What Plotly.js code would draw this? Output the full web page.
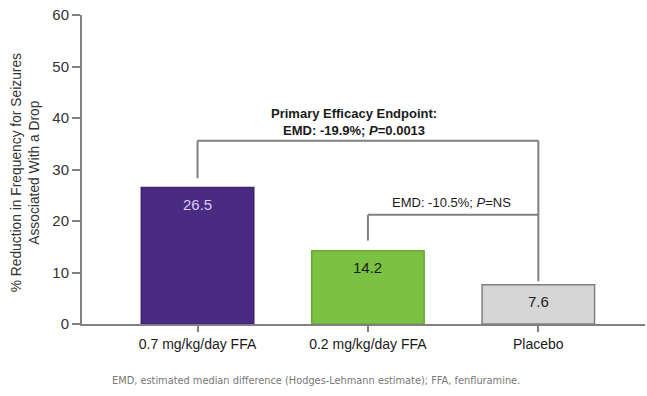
<!DOCTYPE html>
<html>
<head>
<meta charset="utf-8">
<script src="https://cdn.plot.ly/plotly-3.0.1.min.js"></script>
<style>html,body{margin:0;padding:0;background:#fff;}#chart{width:647px;height:396px;}</style>
</head>
<body>
<div id="chart"></div>
<script>
var categories = ["0.7 mg/kg/day FFA", "0.2 mg/kg/day FFA", "Placebo"];
var values = [26.5, 14.2, 7.6];
var valueLabels = ["26.5", "14.2", "7.6"];
var barColors = ["#4a2b83", "#7cc242", "#d6d6d6"];
var barLineColors = ["#3d2470", "#6aa838", "#7f7f7f"];
var labelColors = ["#d9ccf2", "#1a1a1a", "#222222"];
var yTicks = [0, 10, 20, 30, 40, 50, 60];

// bracket levels (y-axis units)
var primaryTop = 35.6, primaryLeftEnd = 28.3, primaryRightEnd = 8.3;
var secondaryTop = 21.2, secondaryLeftEnd = 16.2;
var primaryText = "<b>Primary Efficacy Endpoint:<br>EMD: -19.9%; <i>P</i>=0.0013</b>";
var secondaryText = "EMD: -10.5%; <i>P</i>=NS";
var captionText = "EMD, estimated median difference (Hodges-Lehmann estimate); FFA, fenfluramine.";

var lineStyle = {color: "#808080", width: 2};
var shapes = [
  {type: "line", xref: "x", yref: "y", x0: 0, x1: 0, y0: primaryLeftEnd, y1: primaryTop, line: lineStyle},
  {type: "line", xref: "x", yref: "y", x0: 0, x1: 2, y0: primaryTop, y1: primaryTop, line: lineStyle},
  {type: "line", xref: "x", yref: "y", x0: 2, x1: 2, y0: primaryTop, y1: primaryRightEnd, line: lineStyle},
  {type: "line", xref: "x", yref: "y", x0: 1, x1: 1, y0: secondaryLeftEnd, y1: secondaryTop, line: lineStyle},
  {type: "line", xref: "x", yref: "y", x0: 1, x1: 2, y0: secondaryTop, y1: secondaryTop, line: lineStyle}
];

var trace = {
  type: "bar",
  x: [0, 1, 2],
  y: values,
  width: 0.66,
  marker: {color: barColors, line: {color: barLineColors, width: 1.5}},
  hoverinfo: "none",
  cliponaxis: false
};

var annotations = [
  {xref: "paper", yref: "paper", x: -0.1, y: 0.49, xanchor: "center", yanchor: "middle",
   textangle: -90, showarrow: false,
   text: "% Reduction in Frequency for Seizures<br>Associated With a Drop",
   font: {size: 13.8, color: "#333"}, align: "center"},
  {xref: "x", yref: "y", x: 0.92, y: primaryTop, xanchor: "center", yanchor: "bottom", yshift: 1, showarrow: false,
   text: primaryText, font: {size: 13, color: "#1a1a1a"}, align: "center"},
  {xref: "x", yref: "y", x: 1.49, y: secondaryTop, xanchor: "center", yanchor: "bottom", yshift: 3, showarrow: false,
   text: secondaryText, font: {size: 13, color: "#1a1a1a"}, align: "center"},
  {xref: "paper", yref: "paper", x: 0.415, y: 0, xanchor: "center", yanchor: "middle", yshift: -56, showarrow: false,
   text: captionText, font: {family: "DejaVu Sans, sans-serif", size: 9.8, color: "#777"}}
];
for (var i = 0; i < values.length; i++) {
  annotations.push({xref: "x", yref: "y", x: i, y: values[i], xanchor: "center", yanchor: "top",
    yshift: -6, showarrow: false, text: valueLabels[i],
    font: {family: "Liberation Sans, Arial, sans-serif", size: 15, color: labelColors[i]}});
}

var layout = {
  width: 647, height: 396,
  margin: {l: 82, r: 2, t: 15, b: 72},
  paper_bgcolor: "#ffffff", plot_bgcolor: "#ffffff",
  showlegend: false,
  font: {family: "Liberation Sans, Arial, sans-serif", color: "#222"},
  xaxis: {
    range: [-0.678, 2.626],
    tickvals: [0, 1, 2], ticktext: categories,
    showline: true, linecolor: "#808080", linewidth: 2,
    ticks: "outside", ticklen: 6, tickwidth: 2, tickcolor: "#808080",
    ticklabelstandoff: 0,
    showgrid: false, zeroline: false,
    tickfont: {size: 14, color: "#1a1a1a"},
    fixedrange: true
  },
  yaxis: {
    range: [0, 60],
    tickvals: yTicks,
    showline: true, linecolor: "#808080", linewidth: 2,
    ticks: "outside", ticklen: 8, tickwidth: 2, tickcolor: "#808080",
    showgrid: false, zeroline: false,
    tickfont: {size: 15, color: "#333"},
    fixedrange: true
  },
  shapes: shapes,
  annotations: annotations
};

Plotly.newPlot("chart", [trace], layout, {displayModeBar: false, staticPlot: true});
</script>
</body>
</html>
